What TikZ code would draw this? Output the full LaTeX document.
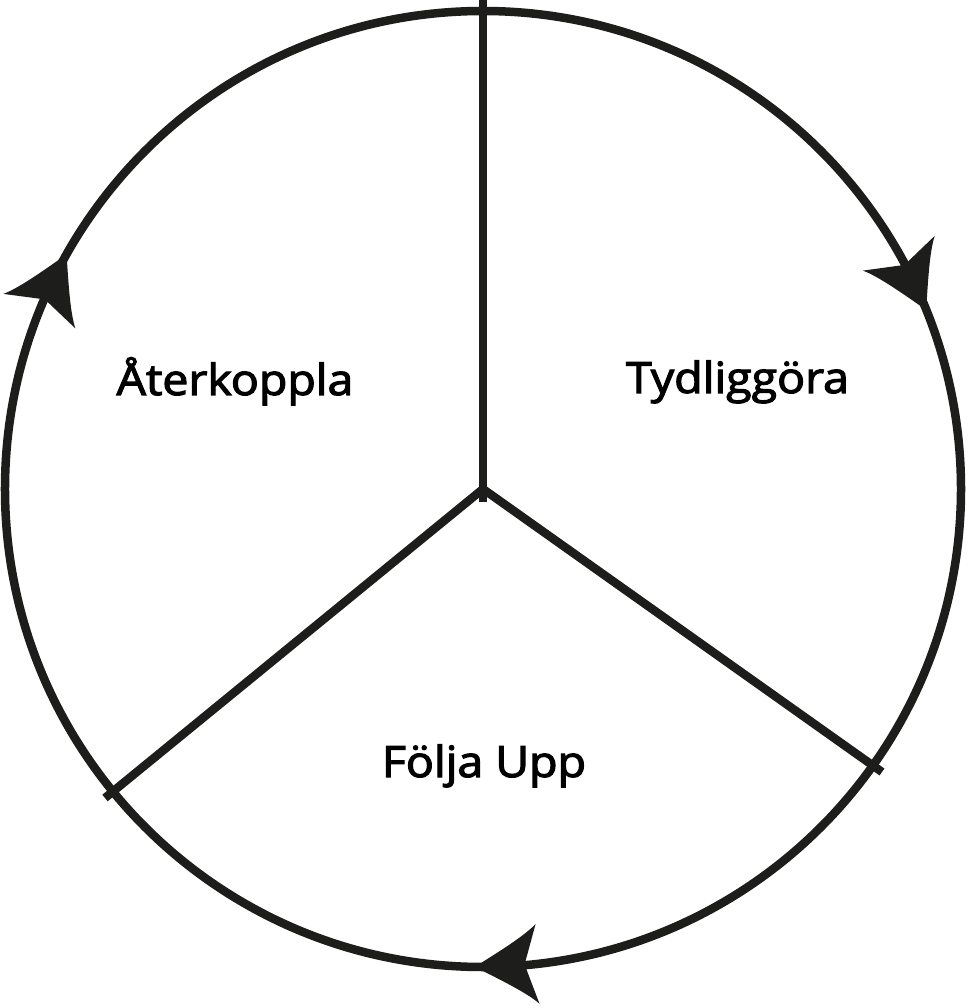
\documentclass[tikz,border=0pt]{standalone}
\usepackage{fontspec}
\setmainfont{Open Sans}[FakeBold=2.6]
\definecolor{ink}{HTML}{1D1D1B}
\begin{document}
\begin{tikzpicture}[x=1pt,y=1pt,
  ring/.style={draw=ink,line width=8.5pt},
  spoke/.style={draw=ink,line width=8.5pt},
  lbl/.style={anchor=base,inner sep=0pt,xscale=1.08,font=\fontsize{43}{50}\selectfont,text=black},
  ahead/.pic={\fill[ink] (0,0) .. controls (-25,14) and (-52,29) .. (-63,40) -- (-50,0) -- (-63,-40) .. controls (-52,-29) and (-25,-14) .. (0,0);}
]
\useasboundingbox (-483,-519) rectangle (485,489);
\coordinate (c) at (0,0);
\coordinate (cb) at (0,-13);
\coordinate (top) at (0,489);
\coordinate (ll) at (-378,-309);
\coordinate (lr) at (399,-283);
\draw[ring] (c) circle (478);
\draw[spoke] (cb) -- (top);
\draw[spoke] (ll) -- (c) -- (lr);
\pic[rotate={22-90+3.8}] at (22:478) {ahead};
\pic[rotate={269-90+3.8}] at (269:478) {ahead};
\pic[rotate={150.6-90+3.8}] at (150.6:478) {ahead};
\node[lbl] (t1) at (-248,94) {Återkoppla};
\node[lbl] (t2) at (254.5,96) {Tydliggöra};
\node[lbl] (t3) at (1,-288) {Följa Upp};
\end{tikzpicture}
\end{document}
